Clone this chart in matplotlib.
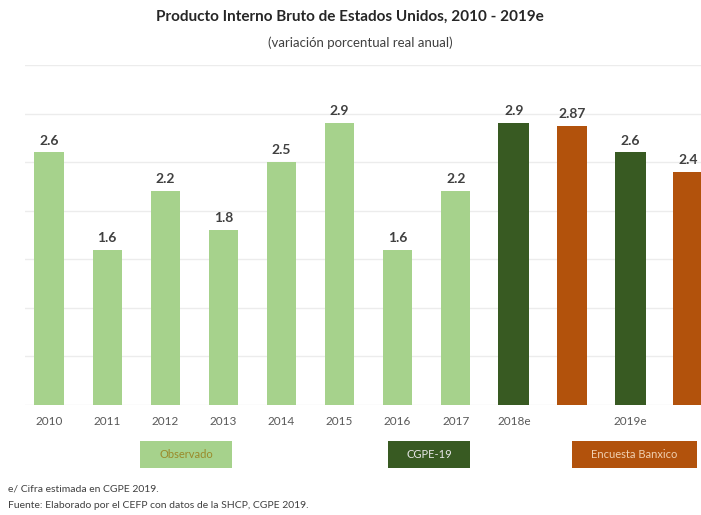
import matplotlib
matplotlib.use("Agg")
import matplotlib.pyplot as plt
from matplotlib.patches import Rectangle

plt.rcParams['font.family'] = ['Lato', 'DejaVu Sans']

categories = ["2010", "2011", "2012", "2013", "2014", "2015", "2016", "2017",
              "2018e", "", "2019e", ""]
values = [2.6, 1.6, 2.2, 1.8, 2.5, 2.9, 1.6, 2.2, 2.9, 2.87, 2.6, 2.4]
value_labels = ["2.6", "1.6", "2.2", "1.8", "2.5", "2.9", "1.6", "2.2",
                "2.9", "2.87", "2.6", "2.4"]
series = ["Observado"] * 8 + ["CGPE-19", "Encuesta Banxico", "CGPE-19", "Encuesta Banxico"]
legend_names = ["Observado", "CGPE-19", "Encuesta Banxico"]
colors = {"Observado": "#a6d28c", "CGPE-19": "#385a22", "Encuesta Banxico": "#b2520c"}
legend_text_colors = {"Observado": "#9a8a2a", "CGPE-19": "#e8e8e8", "Encuesta Banxico": "#f0d0b0"}

W, H = 701, 515
fig = plt.figure(figsize=(W / 100, H / 100), dpi=100)
ax = fig.add_axes([25 / W, (H - 405) / H, (W - 25) / W, 340 / H])

x = list(range(len(values)))
widths = [0.5 if s == "Observado" else 0.53 for s in series]
ax.bar(x, values, width=widths, color=[colors[s] for s in series], zorder=2)
for xi, v, lab in zip(x, values, value_labels):
    ax.text(xi, v + 0.06, lab, ha="center", va="bottom", fontsize=10,
            fontweight="bold", color="#404040")

ax.set_xlim(-0.413, 11.22)
ax.set_ylim(0, 3.5)
ax.set_yticks([0.5 * i for i in range(8)])
ax.yaxis.grid(True, color="#ececec", linewidth=1, zorder=0)
ax.tick_params(axis="y", left=False, labelleft=False)
ax.set_xticks(x)
ax.set_xticklabels(categories, fontsize=8.5, color="#595959")
ax.tick_params(axis="x", length=0, pad=8)
for s in ax.spines.values():
    s.set_visible(False)

fig.text(350 / W, 1 - 17 / H, "Producto Interno Bruto de Estados Unidos, 2010 - 2019e",
         ha="center", va="center", fontsize=11, fontweight="bold", color="#262626")
fig.text(360 / W, 1 - 43 / H, "(variación porcentual real anual)",
         ha="center", va="center", fontsize=9.5, color="#404040")

# legend boxes
boxes = [(140, 232), (388, 470), (572, 697)]
for name, (x0, x1) in zip(legend_names, boxes):
    y0, y1 = 441, 468
    fig.patches.append(Rectangle((x0 / W, 1 - y1 / H), (x1 - x0) / W, (y1 - y0) / H,
                                 transform=fig.transFigure, facecolor=colors[name],
                                 edgecolor="none"))
    fig.text((x0 + x1) / 2 / W, 1 - (y0 + y1) / 2 / H, name, ha="center", va="center",
             fontsize=8, color=legend_text_colors[name])

fig.text(8 / W, 1 - 489 / H, "e/ Cifra estimada en CGPE 2019.", ha="left", va="center",
         fontsize=7.5, color="#404040")
fig.text(8 / W, 1 - 506 / H, "Fuente: Elaborado por el CEFP con datos de la SHCP, CGPE 2019.",
         ha="left", va="center", fontsize=7.5, color="#404040")

fig.savefig("out.png", dpi=100, facecolor="white")
